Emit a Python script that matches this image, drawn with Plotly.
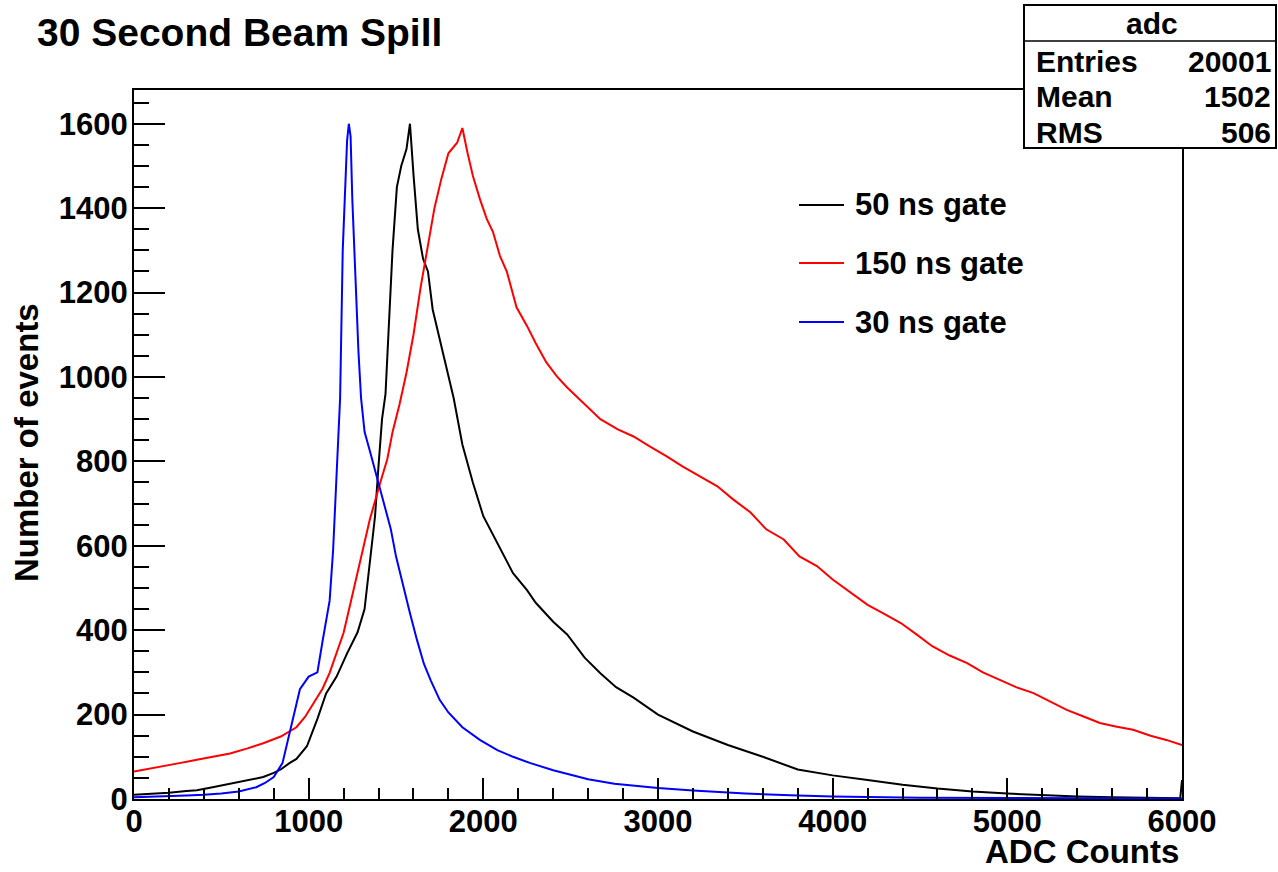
import plotly.graph_objects as go

# ---------------- data ----------------
gate50_x = [0, 100, 200, 300, 360, 450, 550, 650, 740, 800, 840, 890, 930, 990, 1050, 1100,
            1160, 1220, 1280, 1320, 1350, 1380, 1400, 1420, 1440, 1455, 1480, 1505, 1530, 1560,
            1580, 1600, 1625, 1655, 1683, 1710, 1750, 1790, 1830, 1880, 1940, 2000, 2080, 2170,
            2250, 2300, 2400, 2480, 2580, 2670, 2760, 2860, 3000, 3200, 3400, 3600, 3800, 4000,
            4200, 4400, 4600, 4800, 5000, 5200, 5400, 5600, 5800, 5990, 6000]
gate50_y = [10, 12, 15, 19, 21, 28, 36, 45, 52, 62, 70, 85, 95, 125, 190, 250,
            290, 345, 395, 450, 565, 670, 790, 900, 960, 1100, 1300, 1450, 1500, 1540,
            1600, 1480, 1350, 1280, 1250, 1160, 1090, 1020, 950, 840, 750, 670, 605, 535,
            495, 465, 420, 390, 335, 298, 265, 240, 200, 160, 128, 100, 70, 56,
            45, 34, 25, 18, 13, 9, 6, 4, 3, 2, 45]

gate150_x = [0, 100, 170, 260, 360, 450, 550, 650, 740, 840, 930, 980, 1030, 1080, 1120, 1160,
             1200, 1240, 1280, 1320, 1350, 1410, 1450, 1480, 1520, 1560, 1600, 1640, 1680, 1720,
             1760, 1800, 1850, 1880, 1910, 1940, 1980, 2020, 2055, 2095, 2135, 2190, 2250, 2300,
             2360, 2420, 2480, 2570, 2670, 2770, 2860, 2950, 3050, 3140, 3240, 3340, 3430, 3530,
             3620, 3720, 3810, 3910, 4000, 4100, 4200, 4290, 4390, 4480, 4570, 4670, 4770, 4860,
             4960, 5050, 5150, 5250, 5340, 5440, 5530, 5620, 5720, 5820, 5910, 6000]
gate150_y = [65, 72, 77, 85, 93, 100, 108, 120, 132, 148, 170, 195, 228, 262, 299, 345,
             394, 465, 536, 605, 662, 750, 805, 869, 935, 1010, 1100, 1210, 1310, 1400,
             1470, 1530, 1555, 1590, 1530, 1477, 1422, 1374, 1344, 1287, 1249, 1165, 1121, 1080,
             1035, 1002, 975, 940, 900, 876, 859, 836, 812, 788, 764, 741, 710, 679,
             639, 615, 575, 552, 520, 490, 460, 440, 417, 390, 362, 340, 322, 300,
             282, 265, 251, 230, 211, 195, 180, 172, 164, 150, 140, 128]

gate30_x = [0, 100, 200, 300, 400, 500, 600, 700, 750, 800, 850, 900, 950, 1000, 1050, 1080,
            1100, 1120, 1140, 1160, 1180, 1195, 1210, 1220, 1230, 1240, 1250, 1265, 1285, 1300,
            1320, 1350, 1390, 1430, 1470, 1500, 1540, 1580, 1620, 1660, 1700, 1750, 1800, 1880,
            1980, 2080, 2170, 2270, 2400, 2500, 2600, 2750, 2900, 3000, 3200, 3500, 3800, 4000,
            4500, 5000, 5500, 6000]
gate30_y = [4, 5, 6, 8, 10, 13, 18, 28, 38, 52, 85, 170, 260, 290, 300, 375,
            420, 470, 590, 790, 950, 1300, 1470, 1560, 1600, 1570, 1420, 1260, 1060, 950,
            870, 825, 765, 705, 640, 575, 505, 440, 377, 320, 280, 235, 205, 170,
            140, 116, 100, 85, 68, 57, 47, 36, 30, 26, 20, 13, 8, 6,
            3, 2, 1, 1]

series_names = ["50 ns gate", "150 ns gate", "30 ns gate"]
series_colors = ["#000000", "#ff0000", "#0000ff"]

stats_title = "adc"
stats_labels = ["Entries", "Mean", "RMS"]
stats_values = ["20001", "1502", "506"]

x_range = [0, 6000]
y_range = [0, 1680]

# ---------------- figure ----------------
FONT = "Liberation Sans, Arial, Helvetica, sans-serif"
W, H = 1278, 872
L, R, T, B = 134, 96, 90, 73
PW, PH = W - L - R, H - T - B


def px_x(p):
    return (p - L) / PW


def px_y(p):
    return (H - B - p) / PH


fig = go.Figure()
for xs, ys, name, col in zip([gate50_x, gate150_x, gate30_x],
                             [gate50_y, gate150_y, gate30_y],
                             series_names, series_colors):
    fig.add_trace(go.Scatter(x=xs, y=ys, mode="lines", name=name,
                             line=dict(color=col, width=2), showlegend=False))

tickfont = dict(family=FONT, size=31, color="black", weight="bold")

fig.update_layout(
    width=W, height=H,
    margin=dict(l=L, r=R, t=T, b=B, pad=0),
    paper_bgcolor="white", plot_bgcolor="white",
    title=dict(text="30 Second Beam Spill", x=37 / W, y=1 - 32 / H,
               xanchor="left", yanchor="middle", xref="container", yref="container",
               font=dict(family=FONT, size=39, color="black", weight="bold")),
)

fig.update_xaxes(range=x_range, showgrid=False, zeroline=False,
                 showline=True, linecolor="black", linewidth=2, mirror=True,
                 ticks="inside", ticklen=21, tickwidth=1.5, tickcolor="black",
                 dtick=1000, tick0=0, tickfont=tickfont, ticklabelstandoff=-6,
                 minor=dict(ticks="inside", dtick=200, ticklen=11, tickwidth=1.5,
                            tickcolor="black"))
fig.update_yaxes(range=y_range, showgrid=False, zeroline=False,
                 showline=True, linecolor="black", linewidth=2, mirror=True,
                 ticks="inside", ticklen=31, tickwidth=1.5, tickcolor="black",
                 dtick=200, tick0=0, tickfont=tickfont, ticklabelstandoff=-2,
                 minor=dict(ticks="inside", dtick=50, ticklen=15, tickwidth=1.5,
                            tickcolor="black"))

shapes = []
annotations = []

# axis titles
annotations.append(dict(text="ADC Counts", xref="paper", yref="paper",
                        x=px_x(1181), y=px_y(872), xanchor="right", yanchor="bottom",
                        showarrow=False,
                        font=dict(family=FONT, size=33, color="black", weight="bold")))
annotations.append(dict(text="Number of events", xref="paper", yref="paper",
                        x=px_x(26), y=px_y(443), xanchor="center", yanchor="middle",
                        textangle=-90, showarrow=False,
                        font=dict(family=FONT, size=33, color="black", weight="bold")))

# legend (drawn manually, ROOT TLegend style without border)
legend_y = [205, 263, 322]
for name, col, ly in zip(series_names, series_colors, legend_y):
    shapes.append(dict(type="line", xref="paper", yref="paper",
                       x0=px_x(799), x1=px_x(844), y0=px_y(ly), y1=px_y(ly),
                       line=dict(color=col, width=2)))
    annotations.append(dict(text=name, xref="paper", yref="paper",
                            x=px_x(853), y=px_y(ly), xanchor="left", yanchor="middle",
                            showarrow=False,
                            font=dict(family=FONT, size=31, color="black", weight="bold")))

# statistics box
shapes.append(dict(type="rect", xref="paper", yref="paper",
                   x0=px_x(1024), x1=px_x(1276), y0=px_y(148), y1=px_y(5),
                   fillcolor="white", line=dict(color="black", width=2), layer="above"))
shapes.append(dict(type="line", xref="paper", yref="paper",
                   x0=px_x(1024), x1=px_x(1276), y0=px_y(41), y1=px_y(41),
                   line=dict(color="black", width=1.5), layer="above"))
annotations.append(dict(text=stats_title, xref="paper", yref="paper",
                        x=px_x(1152), y=px_y(24), xanchor="center", yanchor="middle",
                        showarrow=False,
                        font=dict(family=FONT, size=30, color="black", weight="bold")))
for lab, val, sy in zip(stats_labels, stats_values, [61, 97, 132]):
    annotations.append(dict(text=lab, xref="paper", yref="paper",
                            x=px_x(1034), y=px_y(sy), xanchor="left", yanchor="middle",
                            showarrow=False,
                            font=dict(family=FONT, size=30, color="black", weight="bold")))
    annotations.append(dict(text=val, xref="paper", yref="paper",
                            x=px_x(1273), y=px_y(sy), xanchor="right", yanchor="middle",
                            showarrow=False,
                            font=dict(family=FONT, size=30, color="black", weight="bold")))

fig.update_layout(shapes=shapes, annotations=annotations)

fig.write_html("out.html")
